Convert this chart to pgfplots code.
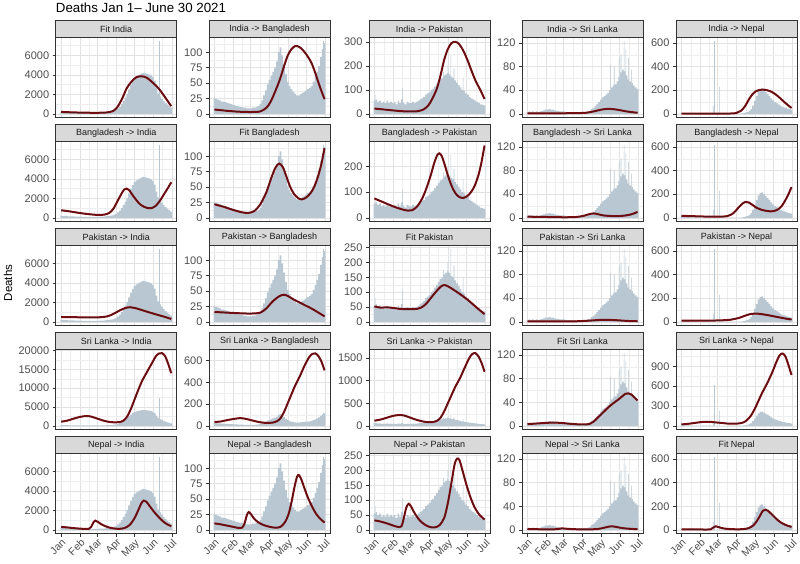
\documentclass[border=0pt]{standalone}
\usepackage{pgfplots}
\pgfplotsset{compat=1.18}
\usepackage{pgfplotstable}
\usepackage{fontspec}
\setmainfont{Liberation Sans}
\definecolor{grey20}{RGB}{51,51,51}
\definecolor{grey30}{RGB}{77,77,77}
\definecolor{grey85}{RGB}{217,217,217}
\definecolor{grey10}{RGB}{26,26,26}
\definecolor{gmaj}{RGB}{226,226,226}
\definecolor{gmin}{RGB}{238,238,238}
\definecolor{barcol}{RGB}{184,199,210}
\definecolor{fitcol}{RGB}{135,10,14}
\definecolor{fitcore}{RGB}{80,22,26}

\pgfplotstableread[row sep=\\]{d v\\ 0 210\\ 3 190\\ 6 180\\ 9 175\\ 12 165\\ 15 160\\ 18 150\\ 21 140\\ 24 135\\ 27 130\\ 30 125\\ 33 115\\ 36 110\\ 39 105\\ 42 100\\ 45 100\\ 48 100\\ 51 100\\ 54 105\\ 57 110\\ 60 110\\ 63 115\\ 66 120\\ 69 130\\ 72 150\\ 75 170\\ 78 190\\ 81 220\\ 84 260\\ 87 320\\ 90 420\\ 93 560\\ 96 750\\ 99 1000\\ 102 1300\\ 105 1650\\ 108 2050\\ 111 2500\\ 114 2950\\ 117 3350\\ 120 3650\\ 123 3850\\ 126 3950\\ 129 4050\\ 132 4150\\ 135 4200\\ 138 4150\\ 141 4100\\ 144 4050\\ 147 3950\\ 150 3800\\ 153 3400\\ 156 2700\\ 159 2100\\ 162 1800\\ 165 1550\\ 168 1300\\ 171 1100\\ 174 950\\ 177 800\\ 180 650\\}\india
\pgfplotstableread[row sep=\\]{d v\\ 160 7450\\}\indiaS

\pgfplotstableread[row sep=\\]{d v\\ 0 25\\ 3 24\\ 6 23\\ 9 22\\ 12 20\\ 15 20\\ 18 19\\ 21 18\\ 24 17\\ 27 16\\ 30 15\\ 33 14\\ 36 13\\ 39 12\\ 42 11\\ 45 11\\ 48 10\\ 51 10\\ 54 9\\ 57 9\\ 60 9\\ 63 10\\ 66 10\\ 69 11\\ 72 13\\ 75 16\\ 78 22\\ 81 30\\ 84 38\\ 87 48\\ 90 55\\ 93 62\\ 96 68\\ 99 75\\ 102 85\\ 105 100\\ 108 108\\ 111 95\\ 114 80\\ 117 65\\ 120 52\\ 123 45\\ 126 40\\ 129 36\\ 132 33\\ 135 30\\ 138 30\\ 141 32\\ 144 34\\ 147 36\\ 150 38\\ 153 40\\ 156 42\\ 159 45\\ 162 52\\ 165 60\\ 168 68\\ 171 78\\ 174 92\\ 177 105\\ 180 115\\}\bangla
\pgfplotstableread[row sep=\\]{d v\\ 178 118\\}\banglaS

\pgfplotstableread[row sep=\\]{d v\\ 0 55\\ 3 60\\ 6 50\\ 9 55\\ 12 45\\ 15 50\\ 18 45\\ 21 55\\ 24 45\\ 27 50\\ 30 45\\ 33 50\\ 36 40\\ 39 55\\ 42 45\\ 45 60\\ 48 45\\ 51 40\\ 54 50\\ 57 45\\ 60 45\\ 63 50\\ 66 45\\ 69 50\\ 72 55\\ 75 60\\ 78 65\\ 81 70\\ 84 80\\ 87 85\\ 90 90\\ 93 100\\ 96 105\\ 99 115\\ 102 125\\ 105 135\\ 108 145\\ 111 150\\ 114 160\\ 117 165\\ 120 170\\ 123 165\\ 126 155\\ 129 150\\ 132 140\\ 135 130\\ 138 120\\ 141 110\\ 144 100\\ 147 95\\ 150 85\\ 153 80\\ 156 70\\ 159 65\\ 162 60\\ 165 55\\ 168 50\\ 171 45\\ 174 40\\ 177 38\\ 180 35\\}\pak
\pgfplotstableread[row sep=\\]{d v\\ 1 80\\ 46 108\\ 113 175\\ 120 200\\ 125 245\\ 130 190\\ 145 150\\}\pakS

\pgfplotstableread[row sep=\\]{d v\\ 0 3\\ 3 4\\ 6 3\\ 9 4\\ 12 3\\ 15 4\\ 18 3\\ 21 4\\ 24 5\\ 27 6\\ 30 7\\ 33 7\\ 36 8\\ 39 7\\ 42 7\\ 45 6\\ 48 5\\ 51 5\\ 54 4\\ 57 4\\ 60 4\\ 63 3\\ 66 3\\ 69 3\\ 72 3\\ 75 3\\ 78 3\\ 81 2\\ 84 3\\ 87 3\\ 90 3\\ 93 3\\ 96 3\\ 99 4\\ 102 5\\ 105 8\\ 108 10\\ 111 13\\ 114 17\\ 117 20\\ 120 24\\ 123 28\\ 126 30\\ 129 33\\ 132 36\\ 135 40\\ 138 45\\ 141 48\\ 144 50\\ 147 55\\ 150 62\\ 153 70\\ 156 75\\ 159 72\\ 162 65\\ 165 58\\ 168 55\\ 171 52\\ 174 48\\ 177 45\\ 180 42\\}\srl
\pgfplotstableread[row sep=\\]{d v\\ 136 83\\ 142 80\\ 150 95\\ 153 100\\ 158 123\\ 161 110\\ 165 95\\ 170 75\\}\srlS

\pgfplotstableread[row sep=\\]{d v\\ 0 8\\ 3 8\\ 6 7\\ 9 7\\ 12 6\\ 15 5\\ 18 5\\ 21 4\\ 24 4\\ 27 3\\ 30 3\\ 33 3\\ 36 2\\ 39 2\\ 42 2\\ 45 2\\ 48 2\\ 51 1\\ 54 2\\ 57 1\\ 60 1\\ 63 1\\ 66 1\\ 69 1\\ 72 1\\ 75 1\\ 78 2\\ 81 2\\ 84 2\\ 87 2\\ 90 2\\ 93 2\\ 96 3\\ 99 4\\ 102 6\\ 105 10\\ 108 15\\ 111 25\\ 114 40\\ 117 70\\ 120 110\\ 123 150\\ 126 190\\ 129 210\\ 132 215\\ 135 200\\ 138 185\\ 141 170\\ 144 150\\ 147 130\\ 150 115\\ 153 100\\ 156 90\\ 159 80\\ 162 70\\ 165 62\\ 168 55\\ 171 50\\ 174 45\\ 177 40\\ 180 35\\}\nep
\pgfplotstableread[row sep=\\]{d v\\ 52 70\\ 54 615\\ 62 230\\}\nepS

\pgfplotsset{
  panel/.style={
    width=121pt, height=80pt, scale only axis,
    xmin=-9, xmax=189,
    axis line style={grey20, line width=0.5pt},
    xmajorgrids, ymajorgrids, xminorgrids, yminorgrids,
    major grid style={color=gmaj, line width=0.6pt},
    minor grid style={color=gmin, line width=0.35pt},
    xtick={0,31,59,90,120,151,181},
    minor xtick={15.5,45,74.5,105,135.5,166},
    xticklabels={},
    xmajorticks=false,
    tick style={grey20, line width=0.5pt},
    tick align=outside, major tick length=3pt, minor tick length=0pt,
    xtick pos=bottom, ytick pos=left,
    scaled y ticks=false,
    /pgf/number format/1000 sep={},
    /pgf/number format/assume math mode=true,
    yticklabel style={font=\fontsize{11}{11}\selectfont, text=grey30},
    title style={at={(0.5,1)}, anchor=south, yshift=-6pt, fill=grey85, draw=grey20, line width=0.5pt,
      minimum width=121pt, minimum height=17pt, inner sep=0pt, outer sep=0pt,
      font=\fontsize{9}{9}\selectfont, text=grey10},
  },
  bottomrow/.style={
    xmajorticks=true,
    xticklabels={Jan,Feb,Mar,Apr,May,Jun,Jul},
    xticklabel style={rotate=45, anchor=north east, font=\fontsize{10.5}{10.5}\selectfont, text=grey30, inner sep=1pt},
  },
  mybars/.style={ybar, bar width=2.7, bar shift=0pt, fill=barcol, draw=none},
  myspk/.style={ybar, bar width=1, bar shift=0pt, fill=barcol, draw=none},
  myfit/.style={smooth, tension=0.5, color=fitcol, line width=2pt, no markers},
  mycore/.style={smooth, tension=0.5, color=fitcore, line width=0.8pt, no markers},
  yI/.style={ymin=-372.5,ymax=7822.5,ytick={0,2000,4000,6000},minor ytick={1000,3000,5000,7000}},
  yB/.style={ymin=-5.9,ymax=123.9,ytick={0,25,50,75,100},minor ytick={12.5,37.5,62.5,87.5,112.5}},
  yS/.style={ymin=-6.15,ymax=129.15,ytick={0,40,80,120},minor ytick={20,60,100}},
  yN/.style={ymin=-30.75,ymax=645.75,ytick={0,200,400,600},minor ytick={100,300,500}},
  yPa/.style={ymin=-12.25,ymax=257.25,ytick={0,50,100,150,200,250},minor ytick={25,75,125,175,225}},
}
% draws the fitted curve twice: red body and dark core
\newcommand{\fit}[1]{\addplot[myfit] coordinates {#1};\addplot[mycore] coordinates {#1};}

\begin{document}
\begin{tikzpicture}
\useasboundingbox (0,0) rectangle (800pt,563pt);
\node[anchor=base west, font=\fontsize{13.3}{14}\selectfont, inner sep=0pt] at (55.7pt,550.5pt) {Deaths Jan 1– June 30 2021};
\node[rotate=90, font=\fontsize{11.5}{12}\selectfont, inner sep=0pt] at (8pt,280pt) {Deaths};

% ---------------- Row 1
\begin{axis}[panel, at={(55.7pt,445.5pt)}, anchor=south west, title={Fit India}, yI]
\addplot[mybars] table[x=d,y=v]{\india};
\addplot[myspk] table[x=d,y=v]{\indiaS};
\fit{(0,200)(20,150)(40,120)(60,110)(75,150)(85,300)(92,700)(100,1600)(107,2600)(115,3300)(123,3750)(132,3850)(140,3700)(147,3350)(155,2900)(162,2400)(170,1700)(176,1150)(180,800)}
\end{axis}
\begin{axis}[panel, at={(209pt,445.5pt)}, anchor=south west, title={India -> Bangladesh}, yB]
\addplot[mybars] table[x=d,y=v]{\bangla};
\addplot[myspk] table[x=d,y=v]{\banglaS};
\fit{(0,7)(20,5)(40,3.5)(60,3)(75,4)(85,10)(92,20)(100,38)(107,56)(114,78)(120,95)(126,105)(132,110)(138,109)(145,103)(152,94)(159,82)(165,66)(170,51)(175,37)(180,24)}
\end{axis}
\begin{axis}[panel, at={(369pt,445.5pt)}, anchor=south west, title={India -> Pakistan}, ymin=-15.15, ymax=318.15, ytick={0,100,200,300}, minor ytick={50,150,250}]
\addplot[mybars] table[x=d,y=v]{\pak};
\addplot[myspk] table[x=d,y=v]{\pakS};
\fit{(0,22)(20,17)(40,12)(55,10)(70,11)(80,18)(88,35)(95,65)(102,105)(108,160)(114,225)(120,270)(126,295)(132,300)(138,292)(145,265)(152,225)(159,178)(165,140)(170,115)(175,90)(180,62)}
\end{axis}
\begin{axis}[panel, at={(522pt,445.5pt)}, anchor=south west, title={India -> Sri Lanka}, yS]
\addplot[mybars] table[x=d,y=v]{\srl};
\addplot[myspk] table[x=d,y=v]{\srlS};
\fit{(0,1)(30,1)(60,1)(90,1.5)(100,2.5)(110,4.5)(120,7)(130,8.3)(140,8)(150,6.5)(160,4.5)(170,3)(180,1.8)}
\end{axis}
\begin{axis}[panel, at={(676pt,445.5pt)}, anchor=south west, title={India -> Nepal}, yN]
\addplot[mybars] table[x=d,y=v]{\nep};
\addplot[myspk] table[x=d,y=v]{\nepS};
\fit{(0,3)(40,2)(80,3)(90,8)(97,25)(104,65)(110,120)(116,165)(122,192)(128,203)(134,205)(140,200)(146,190)(152,172)(158,148)(164,120)(170,92)(175,70)(180,50)}
\end{axis}

% ---------------- Row 2
\begin{axis}[panel, at={(55.7pt,341.5pt)}, anchor=south west, title={Bangladesh -> India}, yI]
\addplot[mybars] table[x=d,y=v]{\india};
\addplot[myspk] table[x=d,y=v]{\indiaS};
\fit{(0,780)(15,650)(30,500)(45,380)(60,300)(70,330)(78,480)(85,900)(92,1700)(98,2400)(103,2900)(107,3000)(111,2850)(116,2400)(122,1900)(128,1450)(135,1150)(142,1000)(148,1000)(155,1250)(162,1800)(170,2600)(176,3200)(180,3650)}
\end{axis}
\begin{axis}[panel, at={(209pt,341.5pt)}, anchor=south west, title={Fit Bangladesh}, yB]
\addplot[mybars] table[x=d,y=v]{\bangla};
\addplot[myspk] table[x=d,y=v]{\banglaS};
\fit{(0,22)(15,18)(30,13)(45,9)(55,8)(65,11)(75,22)(85,42)(93,65)(100,82)(106,88)(112,82)(118,66)(124,50)(130,39)(137,32)(143,30)(150,33)(157,40)(163,50)(169,66)(175,88)(180,113)}
\end{axis}
\begin{axis}[panel, at={(369pt,341.5pt)}, anchor=south west, title={Bangladesh -> Pakistan}, ymin=-14.1, ymax=296.1, ytick={0,100,200}, minor ytick={50,150,250}]
\addplot[mybars] table[x=d,y=v]{\pak};
\addplot[myspk] table[x=d,y=v]{\pakS};
\fit{(0,75)(15,60)(30,45)(45,33)(55,28)(62,30)(70,45)(78,75)(85,115)(92,165)(98,215)(103,245)(106,250)(110,240)(115,205)(120,165)(126,125)(132,97)(138,82)(145,77)(152,85)(158,100)(164,125)(170,165)(175,215)(180,280)}
\end{axis}
\begin{axis}[panel, at={(522pt,341.5pt)}, anchor=south west, title={Bangladesh -> Sri Lanka}, yS]
\addplot[mybars] table[x=d,y=v]{\srl};
\addplot[myspk] table[x=d,y=v]{\srlS};
\fit{(0,2)(30,1.5)(60,1)(80,1.5)(92,3.5)(100,6)(108,7.5)(116,6)(125,4)(140,3)(150,3)(160,4)(170,6)(180,10)}
\end{axis}
\begin{axis}[panel, at={(676pt,341.5pt)}, anchor=south west, title={Bangladesh -> Nepal}, yN]
\addplot[mybars] table[x=d,y=v]{\nep};
\addplot[myspk] table[x=d,y=v]{\nepS};
\fit{(0,17)(20,14)(40,11)(60,10)(75,15)(85,40)(92,80)(99,118)(105,135)(110,130)(116,110)(122,88)(130,70)(138,60)(146,55)(152,58)(158,72)(164,100)(170,150)(175,200)(180,260)}
\end{axis}

% ---------------- Row 3
\begin{axis}[panel, at={(55.7pt,237.5pt)}, anchor=south west, title={Pakistan -> India}, yI]
\addplot[mybars] table[x=d,y=v]{\india};
\addplot[myspk] table[x=d,y=v]{\indiaS};
\fit{(0,500)(15,480)(30,470)(45,450)(60,460)(75,560)(85,800)(95,1150)(105,1420)(113,1500)(120,1430)(130,1250)(140,1050)(150,860)(160,680)(170,500)(180,300)}
\end{axis}
\begin{axis}[panel, at={(209pt,237.5pt)}, anchor=south west, title={Pakistan -> Bangladesh}, yB]
\addplot[mybars] table[x=d,y=v]{\bangla};
\addplot[myspk] table[x=d,y=v]{\banglaS};
\fit{(0,16)(20,15)(40,14)(60,13.5)(75,15)(85,22)(95,33)(105,41)(113,44)(120,42)(130,36)(140,31)(150,26)(160,21)(170,15)(180,9)}
\end{axis}
\begin{axis}[panel, at={(369pt,237.5pt)}, anchor=south west, title={Fit Pakistan}, yPa]
\addplot[mybars] table[x=d,y=v]{\pak};
\addplot[myspk] table[x=d,y=v]{\pakS};
\fit{(0,52)(10,48)(20,49)(30,47)(40,44)(50,43)(60,43)(70,44)(78,50)(85,62)(92,80)(100,100)(108,118)(114,124)(120,120)(128,110)(136,99)(145,86)(155,70)(165,52)(173,38)(180,26)}
\end{axis}
\begin{axis}[panel, at={(522pt,237.5pt)}, anchor=south west, title={Pakistan -> Sri Lanka}, yS]
\addplot[mybars] table[x=d,y=v]{\srl};
\addplot[myspk] table[x=d,y=v]{\srlS};
\fit{(0,1)(40,1)(80,1)(100,2)(120,3.3)(135,3.3)(150,2.5)(165,1.5)(180,1)}
\end{axis}
\begin{axis}[panel, at={(676pt,237.5pt)}, anchor=south west, title={Pakistan -> Nepal}, yN]
\addplot[mybars] table[x=d,y=v]{\nep};
\addplot[myspk] table[x=d,y=v]{\nepS};
\fit{(0,10)(30,10)(60,12)(80,18)(95,35)(107,58)(115,68)(122,70)(130,66)(140,58)(150,48)(160,38)(170,28)(180,20)}
\end{axis}

% ---------------- Row 4
\begin{axis}[panel, at={(55.7pt,133.5pt)}, anchor=south west, title={Sri Lanka -> India}, ymin=-965, ymax=20265, ytick={0,5000,10000,15000,20000}, minor ytick={2500,7500,12500,17500}]
\addplot[mybars] table[x=d,y=v]{\india};
\addplot[myspk] table[x=d,y=v]{\indiaS};
\fit{(0,1100)(10,1400)(20,1900)(30,2350)(40,2600)(48,2500)(56,2100)(65,1600)(75,1150)(85,950)(95,1000)(102,1400)(108,2500)(114,4500)(120,7000)(126,9500)(132,11800)(140,14200)(148,16500)(155,18500)(160,19200)(165,19300)(170,18500)(175,16500)(180,14000)}
\end{axis}
\begin{axis}[panel, at={(209pt,133.5pt)}, anchor=south west, title={Sri Lanka -> Bangladesh}, ymin=-33.35, ymax=700.35, ytick={0,200,400,600}, minor ytick={100,300,500}]
\addplot[mybars] table[x=d,y=v]{\bangla};
\addplot[myspk] table[x=d,y=v]{\banglaS};
\fit{(0,35)(10,40)(20,52)(30,62)(40,70)(48,68)(56,58)(65,45)(75,33)(85,27)(95,30)(102,42)(108,70)(114,130)(120,210)(126,290)(132,370)(140,460)(148,560)(155,630)(160,660)(165,665)(170,640)(175,590)(180,510)}
\end{axis}
\begin{axis}[panel, at={(369pt,133.5pt)}, anchor=south west, title={Sri Lanka -> Pakistan}, ymin=-80.5, ymax=1690.5, ytick={0,500,1000,1500}, minor ytick={250,750,1250}]
\addplot[mybars] table[x=d,y=v]{\pak};
\addplot[myspk] table[x=d,y=v]{\pakS};
\fit{(0,115)(10,140)(20,180)(30,220)(40,240)(48,230)(56,195)(65,150)(75,110)(85,85)(95,85)(102,110)(108,180)(114,320)(120,500)(126,680)(132,860)(140,1060)(148,1300)(155,1500)(160,1590)(165,1610)(170,1540)(175,1400)(180,1200)}
\end{axis}
\begin{axis}[panel, at={(522pt,133.5pt)}, anchor=south west, title={Fit Sri Lanka}, yS]
\addplot[mybars] table[x=d,y=v]{\srl};
\addplot[myspk] table[x=d,y=v]{\srlS};
\fit{(0,3)(15,4)(30,5)(42,5.5)(55,5)(70,3.5)(85,2.5)(95,2.5)(102,3.5)(108,7)(114,13)(120,19)(126,25)(132,31)(140,38)(148,44)(155,50)(160,54)(165,55)(170,53)(175,48)(180,43)}
\end{axis}
\begin{axis}[panel, at={(676pt,133.5pt)}, anchor=south west, title={Sri Lanka -> Nepal}, ymin=-55, ymax=1155, ytick={0,300,600,900}, minor ytick={150,450,750,1050}]
\addplot[mybars] table[x=d,y=v]{\nep};
\addplot[myspk] table[x=d,y=v]{\nepS};
\fit{(0,22)(10,30)(20,42)(30,55)(40,62)(48,60)(56,52)(65,45)(75,35)(85,32)(95,38)(102,55)(108,95)(114,160)(120,260)(126,380)(132,500)(140,640)(148,800)(155,960)(160,1060)(165,1095)(170,1050)(175,920)(180,770)}
\end{axis}

% ---------------- Row 5
\begin{axis}[panel, bottomrow, at={(55.7pt,29.5pt)}, anchor=south west, title={Nepal -> India}, yI]
\addplot[mybars] table[x=d,y=v]{\india};
\addplot[myspk] table[x=d,y=v]{\indiaS};
\fit{(0,300)(10,250)(20,180)(30,130)(40,90)(45,100)(49,300)(53,800)(56,950)(60,820)(65,600)(72,380)(80,220)(88,130)(96,110)(104,200)(112,500)(120,1200)(126,2000)(131,2700)(135,3000)(139,2900)(144,2500)(150,2000)(156,1550)(162,1150)(168,800)(174,550)(180,380)}
\end{axis}
\begin{axis}[panel, bottomrow, at={(209pt,29.5pt)}, anchor=south west, title={Nepal -> Bangladesh}, yB]
\addplot[mybars] table[x=d,y=v]{\bangla};
\addplot[myspk] table[x=d,y=v]{\banglaS};
\fit{(0,10.5)(10,9)(20,7)(30,5)(40,3)(45,3.5)(49,10)(53,24)(56,29)(60,25)(65,18)(72,12)(80,8)(90,5)(100,3.5)(108,5)(115,12)(121,25)(126,45)(131,70)(135,86)(138,89)(142,82)(147,68)(153,52)(160,37)(167,25)(174,17)(180,12)}
\end{axis}
\begin{axis}[panel, bottomrow, at={(369pt,29.5pt)}, anchor=south west, title={Nepal -> Pakistan}, yPa]
\addplot[mybars] table[x=d,y=v]{\pak};
\addplot[myspk] table[x=d,y=v]{\pakS};
\fit{(0,32)(10,28)(20,22)(30,15)(38,10)(44,12)(48,40)(52,75)(56,88)(60,78)(66,55)(74,32)(82,18)(90,10)(98,8)(106,15)(114,40)(120,90)(126,160)(131,220)(135,240)(139,235)(144,200)(150,155)(157,110)(164,75)(172,50)(180,35)}
\end{axis}
\begin{axis}[panel, bottomrow, at={(522pt,29.5pt)}, anchor=south west, title={Nepal -> Sri Lanka}, yS]
\addplot[mybars] table[x=d,y=v]{\srl};
\addplot[myspk] table[x=d,y=v]{\srlS};
\fit{(0,1.5)(20,1)(40,0.8)(50,1.5)(56,2.5)(65,1.8)(80,1)(100,0.8)(115,1.5)(125,3.5)(133,5.5)(138,6)(145,5)(155,3)(165,2)(180,1)}
\end{axis}
\begin{axis}[panel, bottomrow, at={(676pt,29.5pt)}, anchor=south west, title={Fit Nepal}, yN]
\addplot[mybars] table[x=d,y=v]{\nep};
\addplot[myspk] table[x=d,y=v]{\nepS};
\fit{(0,5)(20,4)(40,3)(48,5)(52,20)(56,30)(60,25)(66,15)(75,8)(88,5)(100,6)(110,15)(118,40)(124,80)(129,125)(133,160)(137,170)(141,163)(146,140)(152,110)(158,80)(165,55)(172,38)(180,25)}
\end{axis}
\end{tikzpicture}
\end{document}
